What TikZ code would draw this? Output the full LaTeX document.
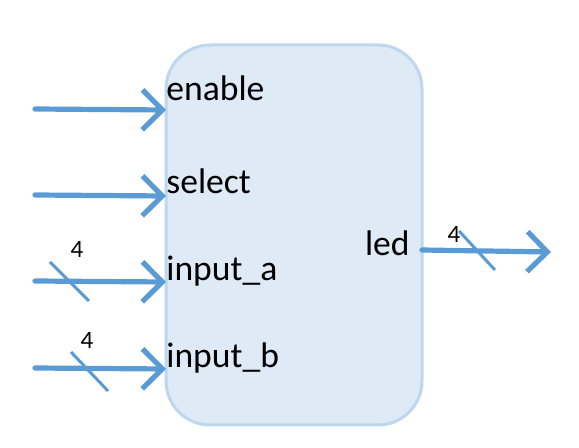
\documentclass[tikz,border=0pt]{standalone}
\usepackage{fontspec}
\setmainfont{Carlito}
\usetikzlibrary{arrows.meta}
\definecolor{wire}{HTML}{5B9BD5}
\definecolor{boxfill}{HTML}{DEEAF6}
\definecolor{boxline}{HTML}{BDD7EE}
\tikzset{
  block/.style = {rectangle, rounded corners=22pt, fill=boxfill, draw=boxline, line width=1.5pt,
    minimum width=128pt, minimum height=190pt, inner sep=0pt},
  port/.style = {inner sep=0pt, font=\fontsize{17.8}{20}\selectfont},
  wirearrow/.style = {draw=wire, line width=2.6pt, line cap=round,
    -{Straight Barb[length=10pt, width=20pt, line width=2.6pt]}},
  buswidth/.style = {draw=wire, line width=1.5pt},
  widthlabel/.style = {inner sep=0pt, font=\fontsize{12.5}{14}\selectfont},
}

\begin{document}
\begin{tikzpicture}[x=0.5pt, y=-0.5pt]
\useasboundingbox (0,0) rectangle (579,448);
\node [block] (top) at (294,235) {};
% ports
\node [port, anchor=base west] (enable) at (166,101) {enable};
\node [port, anchor=base west] (select) at (166,194) {select};
\node [port, anchor=base west] (inputa) at (166,281) {input\_a};
\node [port, anchor=base west] (inputb) at (166,368) {input\_b};
\node [port, anchor=base east] (led) at (410,256) {led};
% wires
\coordinate (enable in) at (35,109);
\coordinate (enable at) at (166,110);
\coordinate (select in) at (35,195);
\coordinate (select at) at (166,196);
\coordinate (inputa in) at (35,281);
\coordinate (inputa at) at (166,282);
\coordinate (inputb in) at (35,368);
\coordinate (inputb at) at (166,369);
\coordinate (led at) at (422,250);
\coordinate (led out) at (551,252);
\draw [wirearrow] (enable in) -- (enable at);
\draw [wirearrow] (select in) -- (select at);
\draw [wirearrow] (inputa in) -- (inputa at);
\draw [wirearrow] (inputb in) -- (inputb at);
\draw [wirearrow] (led at) -- (led out);
% bus widths
\draw [buswidth] (50,262) -- (89,301);
\node [widthlabel] (inputa width) at (77,249) {4};
\draw [buswidth] (71,352) -- (108,391);
\node [widthlabel] (inputb width) at (87,340) {4};
\draw [buswidth] (459,231) -- (495,270);
\node [widthlabel] (led width) at (454,234) {4};
\end{tikzpicture}
\end{document}
